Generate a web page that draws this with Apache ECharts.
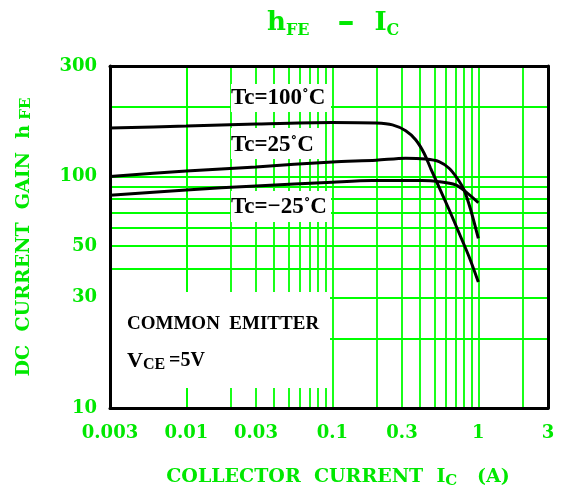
<!DOCTYPE html>
<html>
<head>
<meta charset="utf-8">
<script src="https://cdn.jsdelivr.net/npm/echarts@6/dist/echarts.min.js"></script>
<style>html,body{margin:0;padding:0;background:#fff;}#c{width:568px;height:498px;}</style>
</head>
<body>
<div id="c"></div>
<script>
// ---- data ----
const xTickLabels = [0.003, 0.01, 0.03, 0.1, 0.3, 1, 3];
const yTickLabels = [10, 30, 50, 100, 300];
const xGridLines = [0.004, 0.005, 0.006, 0.007, 0.008, 0.009, 0.01, 0.02, 0.03, 0.04, 0.05, 0.06, 0.07, 0.08, 0.09, 0.1, 0.2, 0.3, 0.4, 0.5, 0.6, 0.7, 0.8, 0.9, 1, 2];
const yGridLines = [20, 30, 40, 50, 60, 70, 80, 90, 100, 200];

const ic100 = [0.003, 0.01, 0.03, 0.1, 0.2, 0.258, 0.318, 0.372, 0.425, 0.471, 0.538, 0.63, 0.738, 0.864, 1.0];
const hfe100 = [162, 165, 168.5, 171, 170, 167, 157.5, 144, 126, 108.5, 90, 72, 57, 45, 35];
const ic25 = [0.003, 0.01, 0.03, 0.1, 0.2, 0.318, 0.436, 0.538, 0.63, 0.718, 0.798, 0.885, 1.0];
const hfe25 = [100, 105.5, 110, 115.5, 117.5, 120, 119, 116, 108.5, 98, 87.5, 72, 54];
const icM25 = [0.003, 0.01, 0.03, 0.1, 0.188, 0.413, 0.538, 0.699, 0.818, 1.0];
const hfeM25 = [83, 87.5, 91, 94.5, 96, 96, 95, 92, 86, 77];

const GREEN_LINE = '#00ff00';
const GREEN_TEXT = '#00e800';
const SERIF = 'DejaVu Serif';
const LSERIF = 'Liberation Serif';

function zip(a, b) { return a.map((v, i) => [v, b[i]]); }
function fmt(v) { return String(+(+v).toPrecision(6)); }

const chart = echarts.init(document.getElementById('c'), null, {renderer: 'canvas'});

const axisFrame = {show: true, lineStyle: {color: '#000', width: 3}};

function curve(name, data) {
  return {
    name: name, type: 'line', data: data, z: 5, smooth: 0.3, symbol: 'none',
    lineStyle: {color: '#000', width: 3}, silent: true, animation: false
  };
}

function box(x, y, w, h) {
  return {type: 'rect', z: 3, silent: true, shape: {x: x, y: y, width: w, height: h}, style: {fill: '#fff'}};
}
function label(x, y, rich, text) {
  return {type: 'text', z: 4, silent: true, x: x, y: y,
    style: {text: text, rich: rich, fill: '#000', verticalAlign: 'middle', align: 'left',
      font: 'bold 23px "' + LSERIF + '"'}};
}

const labRich = {
  m: {fontFamily: LSERIF, fontWeight: 'bold', fontSize: 23, lineHeight: 26, verticalAlign: 'middle', fill: '#000'},
  c: {fontFamily: LSERIF, fontWeight: 'bold', fontSize: 20, lineHeight: 26, verticalAlign: 'middle', fill: '#000'}
};

const option = {
  backgroundColor: '#fff',
  animation: false,
  title: {
    text: '{a|h}{b|FE}{d|–}{a|I}{b|C}',
    left: 262, top: 2,
    textStyle: {
      rich: {
        a: {fontFamily: SERIF, fontWeight: 'bold', fontSize: 26, lineHeight: 32, verticalAlign: 'middle', color: GREEN_TEXT},
        b: {fontFamily: SERIF, fontWeight: 'bold', fontSize: 16, lineHeight: 16, verticalAlign: 'bottom', color: GREEN_TEXT},
        d: {fontFamily: SERIF, fontWeight: 'bold', fontSize: 34, lineHeight: 32, verticalAlign: 'middle', color: GREEN_TEXT, padding: [0, 20, 0, 28]}
      }
    }
  },
  grid: {left: 110, right: 20, top: 66, bottom: 90, show: true, backgroundColor: '#fff', borderWidth: 0},
  xAxis: [{
    type: 'log', min: 0.003, max: 3, z: 10,
    axisLine: axisFrame, axisTick: {show: false}, splitLine: {show: false}, minorSplitLine: {show: false},
    axisLabel: {customValues: xTickLabels, formatter: fmt, margin: 16, color: GREEN_TEXT,
      fontFamily: SERIF, fontWeight: 'bold', fontSize: 18},
    name: '{m|COLLECTOR  CURRENT  I}{s|C}{m|   (A)}',
    nameLocation: 'middle', nameGap: 57,
    nameTextStyle: {padding: [0, 0, 0, 18], rich: {
      m: {fontFamily: SERIF, fontWeight: 'bold', fontSize: 19, lineHeight: 24, verticalAlign: 'middle', color: GREEN_TEXT},
      s: {fontFamily: SERIF, fontWeight: 'bold', fontSize: 15, lineHeight: 15, verticalAlign: 'bottom', color: GREEN_TEXT}
    }}
  }, {
    type: 'log', min: 0.003, max: 3, position: 'top', z: 10,
    axisLine: axisFrame, axisTick: {show: false}, axisLabel: {show: false}, splitLine: {show: false}
  }],
  yAxis: [{
    type: 'log', min: 10, max: 300, z: 10,
    axisLine: axisFrame, axisTick: {show: false}, splitLine: {show: false}, minorSplitLine: {show: false},
    axisLabel: {customValues: yTickLabels, formatter: fmt, margin: 13, color: GREEN_TEXT,
      fontFamily: SERIF, fontWeight: 'bold', fontSize: 18},
    name: '{m|DC  CURRENT  GAIN  h}{s| FE}',
    nameLocation: 'middle', nameRotate: 90, nameGap: 76,
    nameTextStyle: {rich: {
      m: {fontFamily: SERIF, fontWeight: 'bold', fontSize: 19, lineHeight: 20, verticalAlign: 'bottom', color: GREEN_TEXT},
      s: {fontFamily: SERIF, fontWeight: 'bold', fontSize: 15, lineHeight: 16, verticalAlign: 'bottom', color: GREEN_TEXT}
    }}
  }, {
    type: 'log', min: 10, max: 300, position: 'right', z: 10,
    axisLine: axisFrame, axisTick: {show: false}, axisLabel: {show: false}, splitLine: {show: false}
  }],
  graphic: [
    box(231, 84, 100, 28),
    box(231, 128, 92, 31),
    box(231, 191, 100, 31),
    box(112, 292, 218, 96),
    label(231, 98, labRich, '{m|Tc=100}{c|˚}{m|C}'),
    label(231, 145, labRich, '{m|Tc=25}{c|˚}{m|C}'),
    label(231, 207, labRich, '{m|Tc=−25}{c|˚}{m|C}'),
    {type: 'text', z: 4, silent: true, x: 127, y: 324,
      style: {text: 'COMMON  EMITTER', fill: '#000', verticalAlign: 'middle', align: 'left',
        font: 'bold 19px "' + LSERIF + '"'}},
    {type: 'text', z: 4, silent: true, x: 127, y: 361,
      style: {text: '{v|V}{s|CE}{e|=5V}', verticalAlign: 'middle', align: 'left', rich: {
        v: {fontFamily: LSERIF, fontWeight: 'bold', fontSize: 22, lineHeight: 24, verticalAlign: 'middle', fill: '#000'},
        s: {fontFamily: LSERIF, fontWeight: 'bold', fontSize: 16, lineHeight: 14, verticalAlign: 'bottom', fill: '#000', padding: [0, 4, 0, 0]},
        e: {fontFamily: LSERIF, fontWeight: 'bold', fontSize: 20, lineHeight: 24, verticalAlign: 'middle', fill: '#000'}
      }}}
  ],
  series: [
    {
      type: 'line', data: [], z: 1, silent: true, animation: false,
      markLine: {
        z: 1, silent: true, animation: false, symbol: ['none', 'none'], label: {show: false},
        emphasis: {disabled: true},
        lineStyle: {color: GREEN_LINE, width: 1.8, type: 'solid'},
        data: xGridLines.map(v => ({xAxis: v})).concat(yGridLines.map(v => ({yAxis: v})))
      }
    },
    curve('Tc=100°C', zip(ic100, hfe100)),
    curve('Tc=25°C', zip(ic25, hfe25)),
    curve('Tc=-25°C', zip(icM25, hfeM25))
  ]
};
chart.setOption(option);
</script>
</body>
</html>
